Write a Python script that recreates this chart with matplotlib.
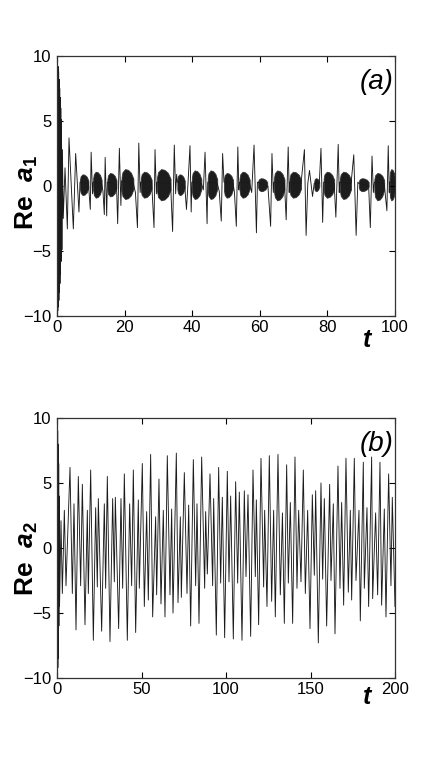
import matplotlib
matplotlib.use('Agg')
import matplotlib.pyplot as plt

# ---------------- Panel (a): Re a1 vs t (turning points)
a_t = [0.00, 0.08, 0.16, 0.24, 0.32, 0.40, 0.48, 0.56, 0.64, 0.72, 0.80, 0.88, 0.96, 1.04,
       1.12, 1.22, 1.32, 1.45, 1.60, 1.85,
       2.37, 3.06, 3.55, 4.15, 4.83, 5.52, 6.50, 6.80, 9.30, 9.85, 10.10, 10.50, 10.70,
       13.20, 13.60, 14.00, 14.25, 14.70, 14.90, 17.60, 17.95, 18.45, 18.90, 19.10,
       22.60, 23.20, 23.80, 24.20, 24.60, 24.80, 28.00, 28.70, 29.00, 29.40, 29.60,
       33.60, 34.20, 34.70, 35.10, 35.40, 35.60, 37.80, 38.30, 38.80, 39.35, 39.70, 39.90,
       42.70, 43.30, 43.80, 44.40, 44.60, 47.40, 48.00, 48.60, 49.00, 49.40,
       52.10, 52.50, 53.05, 53.50, 53.80, 54.00, 57.00, 57.60, 58.30, 59.00, 59.30,
       62.40, 63.20, 63.60, 64.00, 64.20, 67.30, 67.80, 68.40, 68.70, 68.80,
       72.20, 73.20, 73.70, 74.20, 74.70, 75.60, 76.10, 77.60, 78.10, 78.60, 78.90,
       82.00, 82.50, 83.20, 83.50, 83.70, 87.00, 87.80, 88.50, 89.00, 89.30,
       92.20, 92.70, 93.20, 93.60, 93.90, 96.80, 97.60, 98.00, 98.30, 98.40, 100.00]
a_v = [9.8, -9.8, 9.6, -9.6, 9.2, -9.3, 8.8, -8.8, 8.2, -8.2, 7.5, -7.5, 6.8, -6.8,
       6.0, -5.8, 5.1, -4.9, 2.8, -2.5,
       1.4, -3.3, 3.7, 0.4, -3.3, 2.5, -2.0, 0.3, 0.2, -1.8, 2.6, -0.6, 0.3,
       0.2, -0.4, -2.2, 2.2, -2.3, 0.3, 0.1, -2.9, 2.9, -1.5, 0.4,
       0.2, -0.5, -3.2, 3.3, -0.5, 0.3, 0.3, -3.2, 2.8, -0.6, 0.3,
       0.2, -3.5, 3.15, -0.6, 0.9, 0.3, 0.0, -1.8, 0.4, 3.1, -2.0, 0.3,
       0.2, -0.3, 2.6, -2.9, 0.3, 0.2, -0.4, -2.7, 2.5, 0.3,
       0.2, -0.5, -3.1, 3.0, -0.3, 0.3, 0.2, -0.5, 3.15, -3.6, 0.3,
       0.0, -3.1, 2.5, -0.5, 0.3, 0.2, -2.6, 3.0, -0.5, 0.3,
       0.2, 2.8, -3.8, 0.2, 1.2, -0.8, 0.2, 0.2, 2.9, -2.8, 0.3,
       0.2, -2.4, 3.2, -0.5, 0.3, 0.2, 2.4, -3.8, 0.3, 0.2,
       0.0, -3.2, 2.3, -0.5, 0.3, 0.2, -1.9, 3.1, -0.5, 0.3, 0.3]

# fast bursts in (a): start, end, upper and lower envelope
burst_start = [6.8, 10.7, 14.9, 19.1, 24.8, 29.6, 35.6, 39.9, 44.6, 49.4, 54.0, 59.5,
               64.2, 68.8, 76.1, 78.9, 83.7, 89.3, 93.9, 98.4]
burst_end = [9.3, 13.2, 17.6, 22.6, 28.0, 33.6, 37.8, 42.7, 47.4, 52.1, 57.0, 62.2,
             67.3, 72.2, 77.6, 82.0, 87.0, 92.2, 96.8, 100.0]
burst_hi = [0.9, 1.1, 1.0, 1.3, 1.1, 1.3, 0.9, 1.2, 1.2, 1.0, 1.1, 0.6,
            1.2, 1.1, 0.6, 1.1, 1.1, 0.6, 1.0, 1.3]
burst_lo = [-0.7, -0.9, -0.8, -1.0, -0.9, -1.1, -0.7, -1.0, -1.0, -0.9, -0.9, -0.4,
            -1.1, -0.9, -0.4, -0.9, -1.0, -0.4, -1.1, -1.1]

# ---------------- Panel (b): Re a2 vs t (turning points)
b_t = [0.0, 0.1, 0.2, 0.3, 0.4, 0.5, 0.6, 0.7, 0.8, 0.9, 1.0, 1.12, 1.25, 1.5,
       2.37, 3.15, 4.34, 5.32, 7.69, 9.07, 10.06, 11.24, 12.62, 14.0, 14.99, 16.56,
       17.95, 18.54, 19.92, 21.5, 22.87, 23.86, 24.45, 26.42, 28.0, 28.79, 29.78,
       31.35, 32.93, 33.92, 34.51, 36.48, 37.86, 38.85, 39.84, 41.61, 42.99, 44.17,
       45.16, 46.54, 48.12, 48.71, 50.48, 51.67, 53.05, 54.03, 55.41, 56.6, 58.37,
       58.96, 60.34, 61.53, 62.91, 63.89, 65.27, 66.85, 67.84, 68.64, 70.61, 71.6,
       72.98, 73.57, 75.34, 76.92, 77.91, 79.09, 80.67, 82.05, 82.84, 84.02, 85.6,
       87.37, 87.96, 88.95, 90.53, 92.1, 92.7, 94.27, 95.65, 96.84, 97.82, 99.2,
       100.78, 101.77, 102.75, 104.33, 105.71, 106.9, 107.88, 109.46, 110.84, 111.83,
       113.01, 114.59, 115.97, 117.35, 117.94, 119.32, 120.7, 122.28, 122.87, 124.25,
       125.63, 127.01, 128.19, 129.18, 130.76, 132.14, 133.4, 134.51, 135.89, 136.88,
       138.06, 139.44, 140.82, 142.0, 142.99, 144.37, 145.75, 146.94, 148.32, 149.7,
       151.08, 152.26, 153.05, 154.63, 156.2, 157.19, 158.18, 159.56, 161.33, 162.12,
       163.5, 164.49, 166.26, 167.44, 168.43, 169.61, 170.99, 172.37, 173.56, 174.35,
       175.92, 176.91, 178.68, 179.47, 181.25, 181.84, 183.42, 184.4, 186.18, 186.77,
       188.54, 189.73, 191.11, 192.09, 193.67, 194.66, 196.23, 197.61, 198.4, 200.0]
b_v = [9.8, -9.8, 9.5, -9.6, 9.0, -9.2, 8.0, -8.5, 7.2, -7.6, 6.5, -6.0, 4.0, -4.5,
       2.1, -3.5, 2.9, -2.9, 6.2, -3.5, 3.4, -6.3, 5.5, -2.9, 4.9, -5.9,
       2.9, -3.5, 6.0, -7.1, 3.1, -3.0, 3.8, -6.4, 3.4, -3.1, 5.5,
       -7.2, 3.8, -2.6, 3.9, -6.2, 3.8, -3.1, 5.7, -7.1, 3.4, -2.9,
       6.0, -6.5, 3.7, -3.1, 6.5, -4.5, 2.8, -4.0, 7.2, -5.3, 2.4,
       -3.6, 5.3, -4.3, 2.9, -5.3, 7.1, -3.6, 3.0, -5.0, 7.3, -4.2,
       2.4, -3.8, 5.8, -3.5, 3.3, -6.0, 6.8, -2.9, 3.4, -5.8, 7.0,
       -3.1, 2.8, -2.0, 5.7, -2.9, 3.8, -6.7, 6.2, -2.7, 3.9, -6.9,
       5.9, -2.6, 4.0, -7.0, 5.1, -2.7, 4.3, -7.1, 4.4, -2.2,
       4.1, -6.8, 6.0, -2.2, 3.7, -5.9, 6.9, -3.0, 2.9, -4.5,
       7.1, -4.1, 2.9, -5.3, 7.2, -3.6, 2.7, -5.8, 6.4, -2.7,
       3.5, -5.8, 7.0, -3.1, 2.9, -2.6, 6.0, -3.5, 2.9, -6.2,
       4.1, -2.1, 4.4, -7.3, 5.0, -2.4, 3.8, -6.0, 4.9, -2.5,
       3.4, -6.6, 6.3, -3.1, 3.5, -4.4, 6.9, -3.4, 2.9, -4.0,
       6.9, -2.5, 2.9, -5.6, 6.6, -3.1, 3.1, -4.5, 7.0, -3.9,
       2.7, -3.6, 6.6, -4.4, 3.0, -5.3, 5.7, -2.9, 3.9, -4.5]

yticks = [-10, -5, 0, 5, 10]
a_xticks = [0, 20, 40, 60, 80, 100]
b_xticks = [0, 50, 100, 150, 200]

plt.rcParams['mathtext.fontset'] = 'custom'
plt.rcParams['mathtext.rm'] = 'Liberation Sans:bold'
plt.rcParams['mathtext.it'] = 'Liberation Sans:italic:bold'
plt.rcParams['mathtext.bf'] = 'Liberation Sans:bold'

tick_family = ['Liberation Sans Narrow', 'Liberation Sans', 'DejaVu Sans']

fig = plt.figure(figsize=(4.36, 7.63), dpi=100)
ax1 = fig.add_axes([57/436, 1 - 316/763, 338/436, 260/763])
ax2 = fig.add_axes([57/436, 1 - 678/763, 338/436, 260/763])

line_kw = dict(color='#1a1a1a', lw=0.65)

# envelope shape fractions for the drawn bursts (style only)
fx = [0.0, 0.08, 0.3, 0.55, 0.8, 1.0]
fu = [0.45, 0.8, 1.0, 0.95, 0.75, 0.35]

ax1.plot(a_t, a_v, **line_kw)
for s, e, hi, lo in zip(burst_start, burst_end, burst_hi, burst_lo):
    L = e - s
    c = 0.15
    xs = [s + f * L for f in fx]
    up = [c + k * (hi - c) for k in fu]
    dn = [c + k * (lo - c) for k in fu]
    ax1.fill_between(xs, dn, up, color='#101010', lw=0.6, edgecolor='#303030', alpha=0.95)

ax2.plot(b_t, b_v, **line_kw)

for ax, xt, xmax, lab, ylab, tl_y, ly in [
        (ax1, a_xticks, 100, '(a)', r'Re  $a_{\mathit{1}}$', 340, 193),
        (ax2, b_xticks, 200, '(b)', r'Re  $a_{\mathit{2}}$', 697, 559)]:
    ax.set_xlim(0, xmax)
    ax.set_ylim(-10, 10)
    ax.set_xticks(xt)
    ax.set_yticks(yticks)
    ax.set_xticklabels([str(v) for v in xt], family=tick_family, fontsize=12)
    ax.set_yticklabels([str(v).replace('-', '\u2212') for v in yticks],
                       family=tick_family, fontsize=12)
    ax.tick_params(direction='in', top=True, right=True, length=4, width=0.8,
                   colors='black')
    ax.tick_params(axis='x', pad=3)
    ax.tick_params(axis='y', pad=4)
    for sp in ax.spines.values():
        sp.set_linewidth(0.9)
        sp.set_color('#333333')
    ax.text(0.945, 0.90, lab, transform=ax.transAxes, ha='center', va='center',
            fontsize=20, style='italic', family=['Liberation Sans', 'DejaVu Sans'])
    fig.text(367/436, 1 - tl_y/763, 't', ha='center', va='center', fontsize=18,
             weight='bold', style='italic', family=['Liberation Sans', 'DejaVu Sans'])
    fig.text(27/436, 1 - ly/763, ylab, ha='center', va='center', rotation=90,
             fontsize=19, weight='bold', family=['Liberation Sans', 'DejaVu Sans'])

fig.savefig('out.png', dpi=100, facecolor='white')
